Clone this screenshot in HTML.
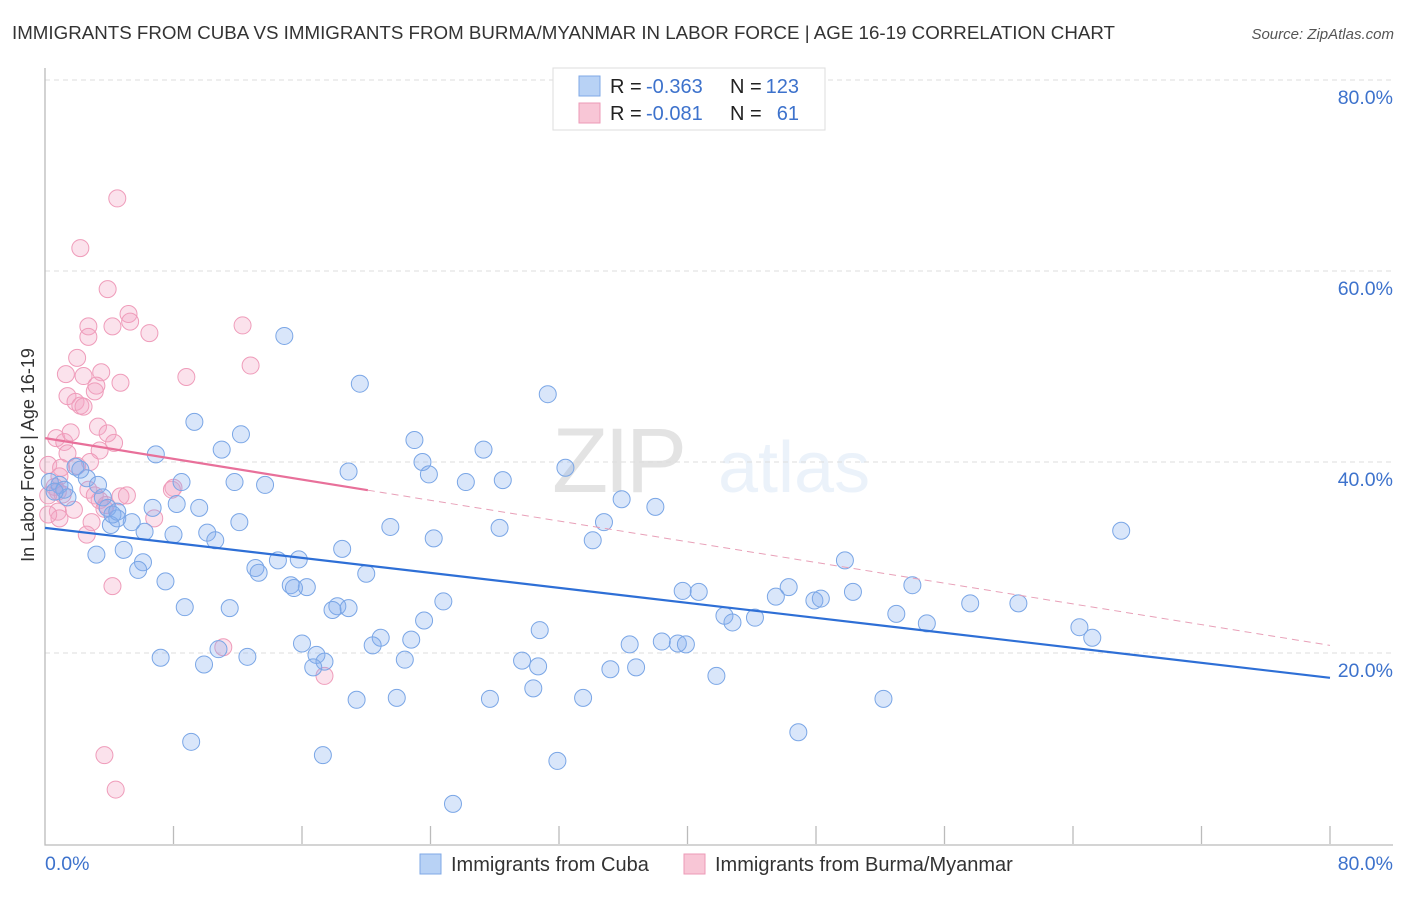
<!DOCTYPE html>
<html><head><meta charset="utf-8"><style>
body{margin:0;background:#fff;font-family:"Liberation Sans",sans-serif}
svg text{font-family:"Liberation Sans",sans-serif}
</style></head><body>
<svg id="chart" width="1406" height="892" viewBox="0 0 1406 892" xmlns="http://www.w3.org/2000/svg">
<text x="12" y="39" font-size="18" textLength="1103" lengthAdjust="spacingAndGlyphs" fill="#333">IMMIGRANTS FROM CUBA VS IMMIGRANTS FROM BURMA/MYANMAR IN LABOR FORCE | AGE 16-19 CORRELATION CHART</text>
<text x="1394" y="39" font-size="15" font-style="italic" fill="#555" text-anchor="end">Source: ZipAtlas.com</text>
<g opacity="0.13">
<text x="552" y="492" font-size="92" font-family="Liberation Serif" fill="#333" letter-spacing="-4">ZIP</text>
<text x="718" y="492" font-size="72" fill="#6aa0e0">atlas</text>
</g>
<g id="grid"></g>
<g id="axes"></g>
<g id="pts"></g>
<g id="trends"></g>
<text x="34" y="455" font-size="18" fill="#333" text-anchor="middle" transform="rotate(-90 34 455)">In Labor Force | Age 16-19</text>
<g>
<rect x="553" y="68" width="272" height="62" fill="#fff" stroke="#ddd"/>
<rect x="579" y="76" width="21" height="20" fill="#b8d2f5" stroke="#7fa8e6"/>
<rect x="579" y="103" width="21" height="20" fill="#f8c6d6" stroke="#ec9ab7"/>
<text x="610" y="93" font-size="20" fill="#222">R =</text>
<text x="646" y="93" font-size="20" fill="#3d72cc">-0.363</text>
<text x="730" y="93" font-size="20" fill="#222">N =</text>
<text x="799" y="93" font-size="20" fill="#3d72cc" text-anchor="end">123</text>
<text x="610" y="120" font-size="20" fill="#222">R =</text>
<text x="646" y="120" font-size="20" fill="#3d72cc">-0.081</text>
<text x="730" y="120" font-size="20" fill="#222">N =</text>
<text x="799" y="120" font-size="20" fill="#3d72cc" text-anchor="end">61</text>
</g>
<g>
<rect x="420" y="854" width="21" height="20" fill="#b8d2f5" stroke="#7fa8e6"/>
<text x="451" y="871" font-size="20" fill="#333">Immigrants from Cuba</text>
<rect x="684" y="854" width="21" height="20" fill="#f8c6d6" stroke="#ec9ab7"/>
<text x="715" y="871" font-size="20" fill="#333">Immigrants from Burma/Myanmar</text>
</g>
</svg>
<script>
const yTicks=[20,40,60,80];
const yTickLabels=["20.0%","40.0%","60.0%","80.0%"];
const xTickVals=[0,8,16,24,32,40,48,56,64,72,80];
const cubaX=[14.9,19.6,31.3,9.3,12.2,11.0,6.9,23.0,27.3,23.5,32.4,18.9,23.9,26.2,28.5,11.8,13.7,8.5,35.9,38.0,67.0,34.8,34.1,28.3,21.5,24.2,18.5,6.7,9.6,8.2,12.1,10.1,10.6,8.0,5.4,6.2,4.5,4.1,3.2,4.9,6.1,5.8,7.5,13.1,13.3,14.5,15.8,15.3,16.3,15.5,20.0,49.8,50.3,54.0,57.6,60.6,46.3,45.5,47.9,48.3,39.7,40.7,42.3,42.8,44.2,53.0,54.9,64.4,65.2,24.8,23.6,18.2,18.9,17.9,8.7,11.5,20.9,20.4,22.8,16.0,16.9,17.4,16.7,22.4,30.8,36.4,38.4,39.4,39.9,36.8,35.2,29.7,30.7,41.8,7.2,9.9,12.6,10.8,30.4,19.4,21.9,27.7,33.5,52.2,9.1,17.3,46.9,31.9,25.4,1.9,2.6,3.3,3.6,1.4,0.9,0.3,2.2,3.9,4.2,4.5,1.2,0.6];
const cubaY=[53.2,48.2,47.1,44.2,42.9,41.3,40.8,42.3,41.3,40.0,39.4,39.0,38.7,37.9,38.1,37.9,37.6,37.9,36.1,35.3,32.8,33.7,31.8,33.1,33.2,32.0,30.9,35.2,35.2,35.6,33.7,32.6,31.8,32.4,33.7,32.7,34.1,33.4,30.3,30.8,29.5,28.7,27.5,28.9,28.4,29.7,29.8,27.1,26.9,26.8,28.3,29.7,26.4,27.1,25.2,25.2,26.9,25.9,25.5,25.7,26.5,26.4,23.9,23.2,23.7,24.1,23.1,22.7,21.6,25.4,23.4,24.9,24.7,24.5,24.8,24.7,21.6,20.8,21.4,21.0,19.8,19.1,18.5,19.3,22.4,20.9,21.2,21.0,20.9,18.5,18.3,19.2,18.6,17.6,19.5,18.8,19.6,20.4,16.3,15.1,15.3,15.2,15.3,15.2,10.7,9.3,11.7,8.7,4.2,39.5,38.3,37.6,36.3,36.3,37.6,37.9,39.2,35.2,34.5,34.8,37.1,36.9];
const burmaX=[4.5,2.2,3.9,2.7,5.2,5.3,4.2,6.5,12.3,2.7,2.0,12.8,1.3,2.4,3.5,4.7,8.8,3.2,1.4,1.9,3.1,2.2,2.4,3.3,3.9,0.7,1.2,1.6,4.3,3.4,1.4,0.2,1.0,2.0,2.8,7.9,8.0,2.7,3.1,0.6,0.8,0.2,1.1,3.4,3.8,4.7,5.1,6.8,2.9,2.6,0.8,0.9,1.8,3.7,0.2,4.2,11.1,17.4,3.7,4.4,0.9];
const burmaY=[67.6,62.4,58.1,54.2,55.5,54.7,54.2,53.5,54.3,53.1,50.9,50.1,49.2,49.0,49.4,48.3,48.9,48.0,46.9,46.3,47.4,45.9,45.8,43.7,43.0,42.5,42.1,43.1,42.0,41.2,40.9,39.7,39.4,39.6,40.0,37.1,37.3,37.1,36.5,37.4,36.9,36.5,36.6,36.0,35.5,36.4,36.5,34.1,33.7,32.4,34.8,34.1,35.0,35.1,34.5,27.0,20.6,17.6,9.3,5.7,38.5];
const cubaTrend=[33.1,17.4];
const burmaTrend=[42.5,20.8];
const burmaSolidEnd=20.1;

const NS="http://www.w3.org/2000/svg";
const X0=45,X1=1330,Y0=844,Y80=80;
const sx=v=>X0+(X1-X0)*v/80;
const sy=v=>Y0-(Y0-Y80)*v/80;
function mk(tag,attrs,parent){const e=document.createElementNS(NS,tag);for(const k in attrs)e.setAttribute(k,attrs[k]);parent.appendChild(e);return e;}
const grid=document.getElementById('grid'),axes=document.getElementById('axes'),pts=document.getElementById('pts'),trends=document.getElementById('trends');
yTicks.forEach((t,i)=>{
  const l=mk('line',{x1:X0,x2:1393,y1:sy(t),y2:sy(t),stroke:'#ddd','stroke-dasharray':'5,4'},grid);
  
  
  const tx=mk('text',{x:1393,y:sy(t)+24,'font-size':19.5,fill:'#3d72cc','text-anchor':'end'},axes);
  tx.textContent=yTickLabels[i];
  
  
});
const ax=mk('path',{d:`M${X0} 68 V${Y0+1} H1393`,stroke:'#bbb',fill:'none','stroke-width':1.3},axes);


xTickVals.forEach(v=>{
  if(v===0)return;
  const t=mk('line',{x1:sx(v),x2:sx(v),y1:826,y2:Y0,stroke:'#bbb','stroke-width':1.3},axes);
  
  
});
const xl=mk('text',{x:45,y:870,'font-size':19.5,fill:'#3d72cc'},axes);xl.textContent='0.0%';


const xr=mk('text',{x:1393,y:870,'font-size':19.5,fill:'#3d72cc','text-anchor':'end'},axes);xr.textContent='80.0%';


function dots(xs,ys,fill,stroke,name){
  xs.forEach((x,i)=>{
    const c=mk('circle',{cx:sx(x),cy:sy(ys[i]),r:8.5,fill:fill,stroke:stroke,'stroke-width':1},pts);
    
    
  });
}
dots(burmaX,burmaY,'rgba(244,165,195,0.32)','#ef9cba','burma-point');
dots(cubaX,cubaY,'rgba(130,172,238,0.3)','#7aa6e6','cuba-point');
const bt=v=>burmaTrend[0]+(burmaTrend[1]-burmaTrend[0])*v/80;
const l1=mk('line',{x1:sx(0),y1:sy(cubaTrend[0]),x2:sx(80),y2:sy(cubaTrend[1]),stroke:'#2e6fd6','stroke-width':2.2},trends);


const l2=mk('line',{x1:sx(0),y1:sy(bt(0)),x2:sx(burmaSolidEnd),y2:sy(bt(burmaSolidEnd)),stroke:'#e8709a','stroke-width':2.2},trends);


const l3=mk('line',{x1:sx(burmaSolidEnd),y1:sy(bt(burmaSolidEnd)),x2:sx(80),y2:sy(bt(80)),stroke:'#e8a0b8','stroke-width':1,'stroke-dasharray':'7,5'},trends);


</script>
</body></html>
